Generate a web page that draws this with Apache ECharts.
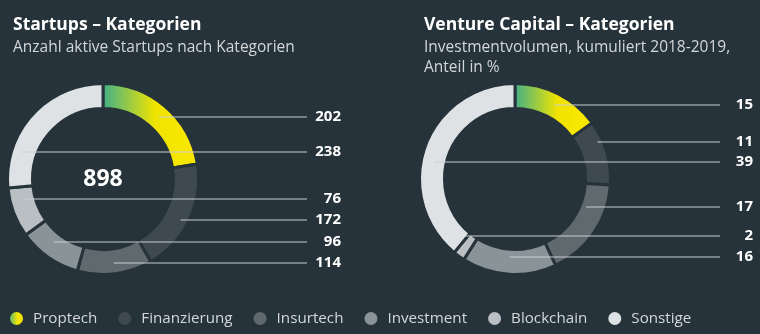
<!DOCTYPE html>
<html>
<head>
<meta charset="utf-8">
<script src="https://cdn.jsdelivr.net/npm/echarts@6/dist/echarts.min.js"></script>
<style>
html,body{margin:0;padding:0;background:#26333a;}
#c{width:760px;height:334px;}
</style>
</head>
<body>
<div id="c"></div>
<script>
// ---- data ----
const categories = ['Proptech', 'Finanzierung', 'Insurtech', 'Investment', 'Blockchain', 'Sonstige'];
const startupCounts = [202, 172, 114, 96, 76, 238];
const vcShares = [15, 11, 17, 16, 2, 39];
const leftTitle = 'Startups – Kategorien';
const leftSubtitle = 'Anzahl aktive Startups nach Kategorien';
const rightTitle = 'Venture Capital – Kategorien';
const rightSubtitle = 'Investmentvolumen, kumuliert 2018-2019,\nAnteil in %';

// ---- layout (annotation rows, px offset from donut centre) ----
const leftLabelRows = [-62, 41, 84, 63, 20, -27];
const rightLabelRows = [-74, -37, 28, 78, 57, -17];

const FONT = 'Open Sans';
const BG = '#26333a';
const proptechGradient = new echarts.graphic.LinearGradient(0, 0, 1, 0, [
  { offset: 0, color: '#3daf8c' },
  { offset: 0.55, color: '#f0e400' },
  { offset: 1, color: '#fce800' }
]);
const palette = [proptechGradient, '#3e4a50', '#5f696e', '#8a9397', '#b9bfc2', '#dfe2e4'];

const R_IN = 72, R_OUT = 94, R_START = 86;
const charts = [
  { cx: 103, cy: 179, values: startupCounts, rows: leftLabelRows, lineEnd: 307, textRight: 341 },
  { cx: 515, cy: 179, values: vcShares, rows: rightLabelRows, lineEnd: 720, textRight: 753 }
];

function lineStart(cfg, i) {
  const vals = cfg.values;
  const total = vals.reduce((a, b) => a + b, 0);
  let before = 0;
  for (let k = 0; k < i; k++) before += vals[k];
  const a0 = before / total * Math.PI * 2;
  const a1 = (before + vals[i]) / total * Math.PI * 2;
  const mid = (a0 + a1) / 2;
  const dy = cfg.rows[i];
  let dx = R_START * Math.sin(mid);
  const r = Math.sqrt(dx * dx + dy * dy);
  if (r < R_IN + 4 && Math.abs(dy) < R_START) {
    dx = Math.sign(dx) * Math.sqrt(R_START * R_START - dy * dy);
  }
  return [cfg.cx + dx, cfg.cy + dy];
}

function baseSeries(cfg) {
  return {
    type: 'pie',
    center: [cfg.cx, cfg.cy],
    radius: [R_IN - 1.5, R_OUT + 1.5],
    startAngle: 90,
    clockwise: true,
    avoidLabelOverlap: false,
    animation: false,
    silent: true,
    emphasis: { disabled: true }
  };
}

function ringSeries(idx) {
  const cfg = charts[idx];
  return Object.assign(baseSeries(cfg), {
    z: 2,
    itemStyle: { borderColor: BG, borderWidth: 3 },
    data: categories.map((name, i) => ({
      name: name,
      value: cfg.values[i],
      itemStyle: { color: palette[i] }
    })),
    label: { show: false },
    labelLine: { show: false }
  });
}

function labelSeries(idx) {
  const cfg = charts[idx];
  return Object.assign(baseSeries(cfg), {
    z: 5,
    itemStyle: { color: 'rgba(0,0,0,0)', borderWidth: 0 },
    data: categories.map((name, i) => ({ name: name, value: cfg.values[i] })),
    label: {
      show: true,
      position: 'outside',
      formatter: '{c}',
      color: '#ffffff',
      opacity: 1,
      fontFamily: FONT,
      fontWeight: 'bold',
      fontSize: 15
    },
    labelLine: {
      show: true,
      length: 5,
      length2: 5,
      smooth: false,
      lineStyle: { color: '#c9ced1', width: 1, opacity: 1 }
    },
    labelLayout: function (p) {
      const i = p.dataIndex;
      const s = lineStart(cfg, i);
      const y = cfg.cy + cfg.rows[i];
      return {
        x: cfg.textRight,
        y: y,
        align: 'right',
        verticalAlign: 'middle',
        labelLinePoints: [[s[0], y], [cfg.lineEnd, y], [cfg.lineEnd, y]]
      };
    }
  });
}

const total = startupCounts.reduce((a, b) => a + b, 0);

const chart = echarts.init(document.getElementById('c'), null, { renderer: 'canvas' });
chart.setOption({
  backgroundColor: BG,
  animation: false,
  title: [
    {
      text: leftTitle, subtext: leftSubtitle, left: 8, top: 11, itemGap: 3,
      textStyle: { color: '#ffffff', fontFamily: FONT, fontWeight: 'bold', fontSize: 17.5 },
      subtextStyle: { color: '#d3d7d9', fontFamily: FONT, fontSize: 15.5, lineHeight: 20.5 }
    },
    {
      text: rightTitle, subtext: rightSubtitle, left: 419, top: 11, itemGap: 3,
      textStyle: { color: '#ffffff', fontFamily: FONT, fontWeight: 'bold', fontSize: 17.5 },
      subtextStyle: { color: '#d3d7d9', fontFamily: FONT, fontSize: 15.5, lineHeight: 20.5 }
    }
  ],
  legend: {
    data: categories,
    left: 3,
    top: 305,
    icon: 'circle',
    itemWidth: 15,
    itemHeight: 15,
    itemGap: 19,
    selectedMode: false,
    textStyle: { color: '#d3d7d9', fontFamily: FONT, fontSize: 15.2, padding: [0, 0, 0, 4] }
  },
  graphic: [{
    type: 'text',
    x: charts[0].cx,
    y: charts[0].cy,
    silent: true,
    style: {
      text: String(total),
      align: 'center',
      verticalAlign: 'middle',
      fill: '#ffffff',
      font: 'bold 23px "' + FONT + '"'
    }
  }],
  series: [ringSeries(0), ringSeries(1), labelSeries(0), labelSeries(1)]
});
</script>
</body>
</html>
